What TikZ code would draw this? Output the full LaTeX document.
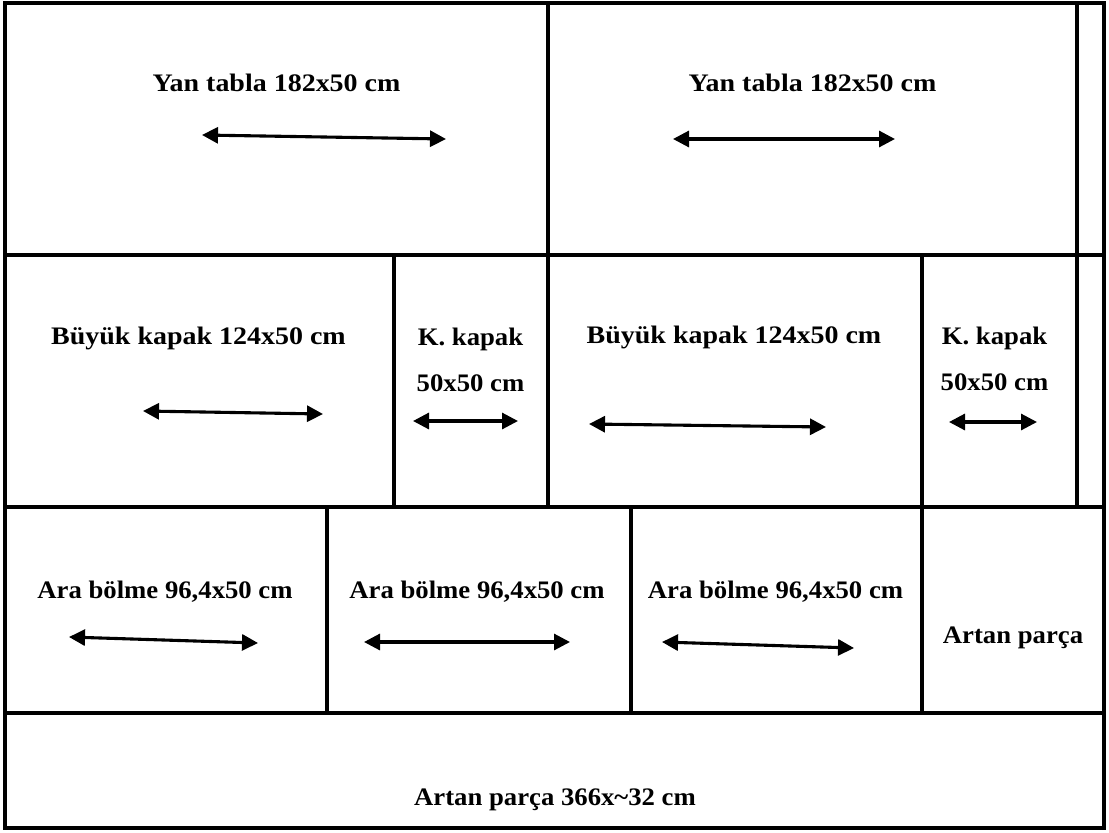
\documentclass[tikz,border=0pt]{standalone}
\usepackage{fontspec}
\usepackage{graphicx}
\setmainfont{Liberation Serif}
\usetikzlibrary{arrows.meta}
\newcommand{\wideA}[1]{\scalebox{1.11}[1]{#1}}
\newcommand{\wideB}[1]{\scalebox{1.06}[1]{#1}}
\tikzset{
  cut/.style={line width=3.5pt, line cap=rect},
  lbl/.style={anchor=base, inner sep=0pt, font=\bfseries\fontsize{25.2}{30}\selectfont},
  dim/.style={line width=3.1pt, {Triangle[length=16pt,width=16pt]}-{Triangle[length=16pt,width=16pt]}}
}
\begin{document}
\begin{tikzpicture}[x=1pt,y=-1pt]
\useasboundingbox (0,0) rectangle (1109,833);
% outer board and cuts
\draw[cut] (5,3) rectangle (1104,828);
\draw[cut] (5,255) -- (1104,255);
\draw[cut] (5,507) -- (1104,507);
\draw[cut] (5,713) -- (1104,713);
\draw[cut] (548,3) -- (548,507);
\draw[cut] (1077,3) -- (1077,507);
\draw[cut] (394,255) -- (394,507);
\draw[cut] (922,255) -- (922,713);
\draw[cut] (327,507) -- (327,713);
\draw[cut] (631,507) -- (631,713);
% row 1
\node[lbl] (yan1) at (276.5,91) {\wideA{Yan tabla 182x50 cm}};
\node[lbl] (yan2) at (812.5,91) {\wideA{Yan tabla 182x50 cm}};
% row 2
\node[lbl] (buy1) at (198.5,344) {\wideA{Büyük kapak 124x50 cm}};
\node[lbl] (kk1) at (470.5,345) {\wideB{K. kapak}};
\node[lbl] (kd1) at (470.5,391) {\wideB{50x50 cm}};
\node[lbl] (buy2) at (734,343) {\wideA{Büyük kapak 124x50 cm}};
\node[lbl] (kk2) at (994.5,344) {\wideB{K. kapak}};
\node[lbl] (kd2) at (994.5,390) {\wideB{50x50 cm}};
% row 3
\node[lbl] (ara1) at (165,598) {\wideB{Ara bölme 96,4x50 cm}};
\node[lbl] (ara2) at (477,598) {\wideB{Ara bölme 96,4x50 cm}};
\node[lbl] (ara3) at (775.5,598) {\wideB{Ara bölme 96,4x50 cm}};
\node[lbl] (art1) at (1013,643) {\wideB{Artan parça}};
% row 4
\node[lbl] (art2) at (555,805) {\wideB{Artan parça 366x\textasciitilde32 cm}};
% dimension arrows
\coordinate (a1s) at (202,135); \coordinate (a1e) at (446,139);
\coordinate (a2s) at (673,139); \coordinate (a2e) at (895,139);
\coordinate (b1s) at (143,411); \coordinate (b1e) at (323,414);
\coordinate (k1s) at (413,421); \coordinate (k1e) at (518,421);
\coordinate (b2s) at (589,424); \coordinate (b2e) at (826,427);
\coordinate (k2s) at (949,422); \coordinate (k2e) at (1037,422);
\coordinate (r1s) at (69,637);  \coordinate (r1e) at (258,643);
\coordinate (r2s) at (364,642); \coordinate (r2e) at (570,642);
\coordinate (r3s) at (662,642); \coordinate (r3e) at (854,648);
\draw[dim] (a1s) -- (a1e);
\draw[dim] (a2s) -- (a2e);
\draw[dim] (b1s) -- (b1e);
\draw[dim] (k1s) -- (k1e);
\draw[dim] (b2s) -- (b2e);
\draw[dim] (k2s) -- (k2e);
\draw[dim] (r1s) -- (r1e);
\draw[dim] (r2s) -- (r2e);
\draw[dim] (r3s) -- (r3e);
\end{tikzpicture}
\end{document}
